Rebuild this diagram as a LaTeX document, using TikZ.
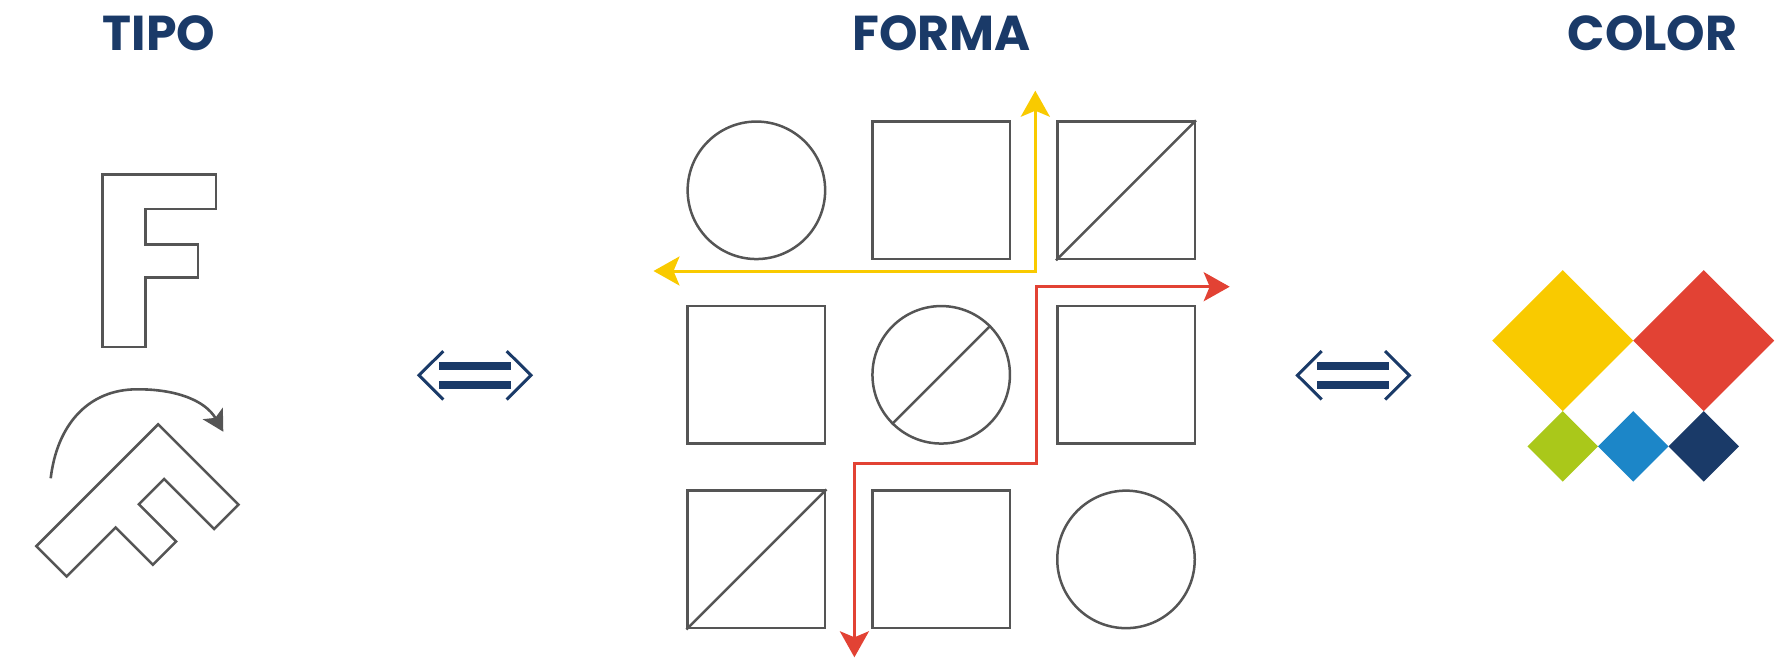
\documentclass[tikz,border=0pt]{standalone}
\usepackage{fontspec}
\setmainfont{Poppins}
\usetikzlibrary{arrows.meta}

\definecolor{navy}{HTML}{1A3A68}
\definecolor{inkgray}{HTML}{555555}
\definecolor{sunyellow}{HTML}{F9CA00}
\definecolor{brickred}{HTML}{E24234}
\definecolor{limegreen}{HTML}{AAC81A}
\definecolor{skyblue}{HTML}{1C86C8}

\tikzset{
  headline/.style={text=navy, font=\fontsize{49}{50}\selectfont\bfseries, anchor=base, inner sep=0pt},
  outline/.style={draw=inkgray, line width=2.5pt, line join=miter},
  cell/.style={outline, minimum size=137.5pt, inner sep=0pt},
  sqcell/.style={cell, rectangle},
  circcell/.style={cell, circle},
  bighead/.tip={Stealth[length=26pt, width=29pt, inset=6pt]},
  turnhead/.tip={Stealth[length=21pt, width=23pt, inset=5pt]},
  yarrow/.style={draw=sunyellow, line width=3pt, line join=miter, bighead-bighead},
  rarrow/.style={draw=brickred, line width=3pt, line join=miter, bighead-bighead},
  turnarrow/.style={draw=inkgray, line width=2.6pt, -turnhead},
  % outlined capital F, top-left corner at the pic origin
  letterF/.pic={
    \draw[outline] (0,0) -- (113.6,0) -- (113.6,34.5) -- (42.8,34.5) -- (42.8,70.2)
      -- (95.6,70.2) -- (95.6,103) -- (42.8,103) -- (42.8,172.4) -- (0,172.4) -- cycle;
  },
  % equivalence sign between two open chevrons
  twoway/.pic={
    \draw[navy, line width=3pt] (-31.7,-24.2) -- (-56,0) -- (-31.7,24.2);
    \draw[navy, line width=3pt] (31.7,-24.2) -- (56,0) -- (31.7,24.2);
    \fill[navy] (-36.5,-13.3) rectangle (36,-5.5);
    \fill[navy] (-36.5,5.5) rectangle (36,13.3);
  },
}

\begin{document}
\begin{tikzpicture}[x=1pt, y=-1pt]
\useasboundingbox (0,0) rectangle (1782,659);

% column headings
\node[headline] (tipo)  at (159.2,50.4) {TIPO};
\node[headline] (forma) at (941.7,50.0) {FORMA};
\node[headline] (color) at (1652.5,50.5) {COLOR};

% TIPO: upright F and the same F turned by 45 degrees
\pic at (102.6,174.4) {letterF};
\pic[rotate=-45] at (158.2,424.3) {letterF};
\coordinate (turnA) at (50.7,478.3);
\coordinate (turnB) at (223.3,431.7);
\draw[turnarrow] (turnA) .. controls (57,425) and (88,389.5) .. (136.7,389.3)
  .. controls (175,389) and (205,400) .. (turnB);

% equivalence signs
\pic at (475,375.3) {twoway};
\pic at (1353.4,375.3) {twoway};

% FORMA: 3x3 grid of shapes
\node[circcell] (c11) at (756.4,190.3) {};
\node[sqcell]   (c12) at (941.2,190.3) {};
\node[sqcell]   (c13) at (1126.0,190.3) {};
\node[sqcell]   (c21) at (756.4,374.8) {};
\node[circcell] (c22) at (941.2,374.8) {};
\node[sqcell]   (c23) at (1126.0,374.8) {};
\node[sqcell]   (c31) at (756.4,559.4) {};
\node[sqcell]   (c32) at (941.2,559.4) {};
\node[circcell] (c33) at (1126.0,559.4) {};
\draw[outline] (c13.south west) -- (c13.north east);
\draw[outline] (c22.225) -- (c22.45);
\draw[outline] (c31.south west) -- (c31.north east);

% yellow bent double arrow
\coordinate (yl) at (653.5,271);
\coordinate (yc) at (1035.3,271);
\coordinate (yu) at (1035.3,90.7);
\draw[yarrow] (yl) -- (yc) -- (yu);

% red stepped double arrow
\coordinate (rr)  at (1229.7,286.7);
\coordinate (rc1) at (1036,286.7);
\coordinate (rc2) at (1036,463.3);
\coordinate (rc3) at (854.4,463.3);
\coordinate (rd)  at (854.4,657.3);
\draw[rarrow] (rr) -- (rc1) -- (rc2) -- (rc3) -- (rd);

% COLOR: diamond swatches
\foreach \cx/\cy/\h/\col in {1562.7/340.7/70.5/sunyellow, 1703.7/340.7/70.5/brickred,
    1562.7/446.45/35.25/limegreen, 1633.2/446.45/35.25/skyblue, 1703.7/446.45/35.25/navy}
  \fill[\col] (\cx,\cy) ++(0,-\h) -- ++(\h,\h) -- ++(-\h,\h) -- ++(-\h,-\h) -- cycle;
\end{tikzpicture}
\end{document}
